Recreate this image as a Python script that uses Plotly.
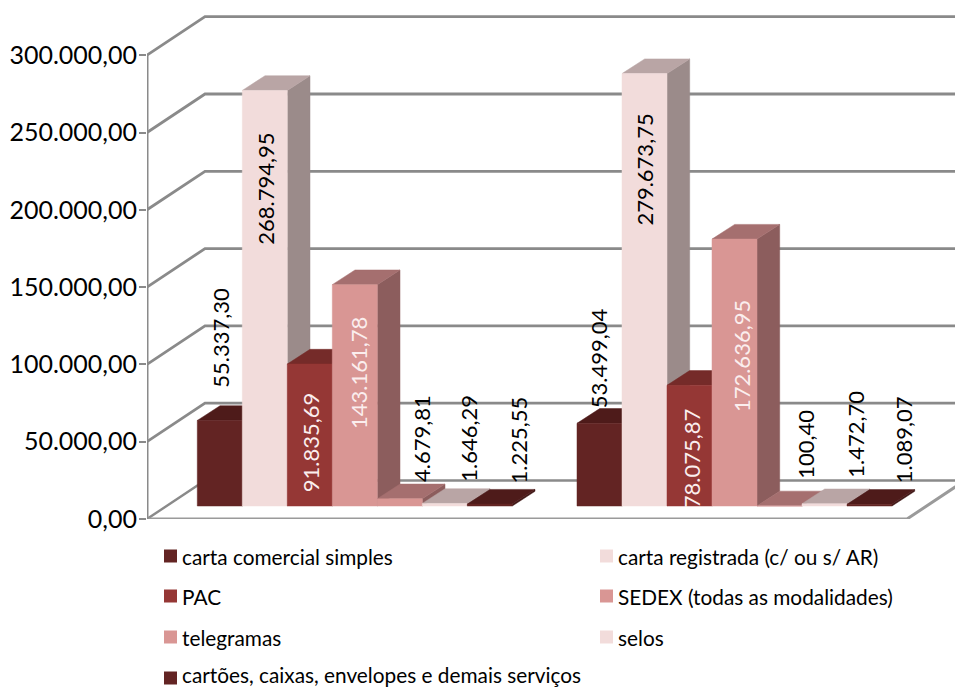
import plotly.graph_objects as go

# Series revenue per group
SERIES = ["carta comercial simples", "carta registrada (c/ ou s/ AR)", "PAC",
          "SEDEX (todas as modalidades)", "telegramas", "selos",
          "cartões, caixas, envelopes e demais serviços"]
GROUP_A = [55337.30, 268794.95, 91835.69, 143161.78, 4679.81, 1646.29, 1225.55]
GROUP_B = [53499.04, 279673.75, 78075.87, 172636.95, 100.40, 1472.70, 1089.07]
Y_TICKS = [0, 50000, 100000, 150000, 200000, 250000, 300000]

FRONT = ["#632423", "#F2DCDB", "#953735", "#D99694", "#D99694", "#F2DCDB", "#632423"]
TOP = ["#4E1B1A", "#B9A5A5", "#752B29", "#A56F6F", "#A56F6F", "#B9A5A5", "#4E1B1A"]
SIDE = ["#3E1615", "#9B8B8A", "#5E2221", "#8C5D5D", "#8C5D5D", "#9B8B8A", "#3E1615"]
LABEL_COLOR = ["black", "black", "#FBEEEE", "#FBEEEE", "black", "black", "black"]

# Label placement, in pixels from the bar's top-left front corner
LIFT_A = [83, -98, -78, -88, 60, 65, 64]
LIFT_B = [65, -96, -73, -117, 61, 69, 64]
SHIFT_A = [23, 23, 23, 26, 44, 46, 51]
SHIFT_B = [21, 23, 24, 29, 49, 54, 56]

W, H = 955, 688
LEFT, BOTTOM = 147, 169
PX_PER_50K = 77.3
BAR_PX = 45.0


def dx(px):
    return px / BAR_PX


def dy(px):
    return px * 50000 / PX_PER_50K


X_MAX = dx(W - LEFT)
Y_MAX = dy(H - BOTTOM)
WALL_DX, WALL_DY = dx(58), dy(38.5)
FLOOR_RIGHT = dx(907 - LEFT)
BAR_BASE = dy(13)
BAR_DX, BAR_DY = dx(22.7), dy(14.7)
START_A, START_B = dx(197.3 - LEFT), dx(577 - LEFT)
GRID = "#8A8A8A"

fig = go.Figure()


def line(xs, ys, color=GRID, width=2.8):
    fig.add_trace(go.Scatter(x=xs, y=ys, mode="lines", cliponaxis=False,
                             line=dict(color=color, width=width),
                             hoverinfo="skip", showlegend=False))


def face(xs, ys, color):
    fig.add_trace(go.Scatter(x=xs + xs[:1], y=ys + ys[:1], mode="lines", fill="toself",
                             fillcolor=color, line=dict(color=color, width=0.5),
                             hoverinfo="skip", showlegend=False))


def brazilian(v):
    return f"{v:,.2f}".replace(",", "#").replace(".", ",").replace("#", ".")


# Walls and floor
for tick in Y_TICKS[1:]:
    line([0, WALL_DX, X_MAX + 1], [tick, tick + WALL_DY, tick + WALL_DY])
line([0, WALL_DX, FLOOR_RIGHT + WALL_DX], [0, WALL_DY, WALL_DY], width=2.4)
line([0, FLOOR_RIGHT, FLOOR_RIGHT + WALL_DX], [0, 0, WALL_DY], color="#9A9A9A", width=3)
line([0, 0], [0, Y_TICKS[-1]], width=3)

annotations = []
for start, values, lifts, shifts in ((START_A, GROUP_A, LIFT_A, SHIFT_A),
                                     (START_B, GROUP_B, LIFT_B, SHIFT_B)):
    for i, value in enumerate(values):
        x0, x1 = start + i, start + i + 1
        y0, y1 = BAR_BASE, BAR_BASE + value
        # Painted left to right so each front face hides its neighbour's side
        face([x1, x1 + BAR_DX, x1 + BAR_DX, x1], [y0, y0 + BAR_DY, y1 + BAR_DY, y1], SIDE[i])
        face([x0, x1, x1 + BAR_DX, x0 + BAR_DX], [y1, y1, y1 + BAR_DY, y1 + BAR_DY], TOP[i])
        face([x0, x1, x1, x0], [y0, y0, y1, y1], FRONT[i])
        annotations.append(dict(
            x=x0 + dx(shifts[i]), y=y1 + dy(lifts[i]), xref="x", yref="y",
            text=brazilian(value), textangle=-90, showarrow=False,
            font=dict(family="Lato", size=22, color=LABEL_COLOR[i])))

# Two-column key underneath the floor
shapes = []
ROW_Y = [556, 596, 637, 678]
TEXT_Y = [556, 596, 637, 674]
for i, name in enumerate(SERIES):
    col, row = i % 2, i // 2
    sx = 164 if col == 0 else 600
    py = ROW_Y[row]
    shapes.append(dict(type="rect", xref="paper", yref="paper", layer="above",
                       x0=(sx - LEFT) / (W - LEFT), x1=(sx + 13 - LEFT) / (W - LEFT),
                       y0=(H - py - 6.5 - BOTTOM) / (H - BOTTOM), y1=(H - py + 6.5 - BOTTOM) / (H - BOTTOM),
                       fillcolor=FRONT[i], line=dict(width=0)))
    annotations.append(dict(
        x=(sx + 16 - LEFT) / (W - LEFT), y=(H - TEXT_Y[row] - BOTTOM) / (H - BOTTOM),
        xref="paper", yref="paper", xanchor="left", yanchor="middle", text=name,
        showarrow=False, font=dict(family="Lato", size=20.8, color="black")))

fig.update_layout(
    width=W, height=H, autosize=False, showlegend=False,
    margin=dict(l=LEFT, r=0, t=0, b=BOTTOM),
    paper_bgcolor="white", plot_bgcolor="white",
    xaxis=dict(range=[0, X_MAX], visible=False, fixedrange=True),
    yaxis=dict(range=[0, Y_MAX], tickvals=Y_TICKS, ticktext=[brazilian(t) for t in Y_TICKS],
               showgrid=False, zeroline=False, showline=False, ticks="outside", ticklen=7,
               tickwidth=2, tickcolor=GRID, ticklabelstandoff=-3,
               tickfont=dict(family="Lato", size=25, color="black"), fixedrange=True),
    annotations=annotations, shapes=shapes,
)

fig.write_html("out.html", config={"displayModeBar": False})
